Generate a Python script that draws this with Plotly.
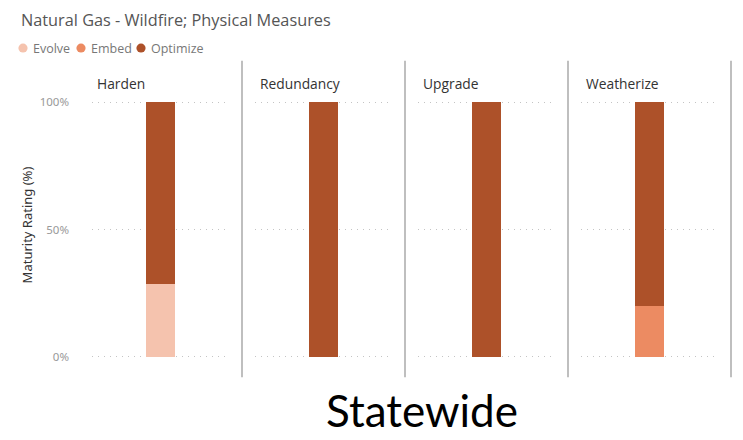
import plotly.graph_objects as go

categories = ["Harden", "Redundancy", "Upgrade", "Weatherize"]
series_names = ["Evolve", "Embed", "Optimize"]
evolve = [28.6, 0, 0, 0]
embed = [0, 0, 0, 20]
optimize = [71.4, 100, 100, 80]
colors = ["#F5C3AE", "#EC8B62", "#AD5129"]
y_ticks = [0, 50, 100]
y_tick_labels = ["0%", "50%", "100%"]

W, H = 743, 440
values = [evolve, embed, optimize]

fig = go.Figure()

panel_left0 = 79
panel_w = 163
inset = 13
y0_px, y100_px = 359.3, 99.5
pad = 1.0  # extend range slightly so edge gridlines render
px_per_unit = (y0_px - y100_px) / 100
dom_bottom = 1 - (y0_px + pad * px_per_unit) / H
dom_top = 1 - (y100_px - pad * px_per_unit) / H

layout = dict(
    width=W, height=H,
    margin=dict(l=0, r=0, t=0, b=0),
    paper_bgcolor="white", plot_bgcolor="white",
    barmode="stack", showlegend=False, hovermode=False,
    font=dict(family="Noto Sans", color="#666"),
)

shapes = []
annotations = []
for i, cat in enumerate(categories):
    ax = "" if i == 0 else str(i + 1)
    left = panel_left0 + panel_w * i + inset
    right = panel_left0 + panel_w * (i + 1) - inset
    for s, name in enumerate(series_names):
        fig.add_trace(go.Bar(
            x=[cat], y=[values[s][i]], name=name,
            marker=dict(color=colors[s], line=dict(width=0)),
            width=29 / (right - left),
            xaxis="x" + ax, yaxis="y" + ax,
        ))
    layout["xaxis" + ax] = dict(
        domain=[left / W, right / W], anchor="y" + ax,
        showticklabels=False, showgrid=False, zeroline=False,
        showline=False, ticks="", range=[-0.5, 0.5], fixedrange=True,
    )
    layout["yaxis" + ax] = dict(
        domain=[dom_bottom, dom_top], anchor="x" + ax,
        range=[-pad, 100 + pad], tickvals=y_ticks, ticktext=y_tick_labels,
        showticklabels=(i == 0), ticklabelstandoff=22,
        tickfont=dict(size=11.5, color="#999", family="Noto Sans"),
        showgrid=True, gridcolor="#c4c4c4", griddash="1px,5px", gridwidth=1,
        zeroline=False, showline=False, ticks="", fixedrange=True,
    )
    annotations.append(dict(
        text=cat, x=(left + 3) / W, y=1 - 80 / H, xref="paper", yref="paper",
        xanchor="left", yanchor="middle", showarrow=False,
        font=dict(size=13.8, color="#333", family="Open Sans"),
    ))
    xs = (panel_left0 + panel_w * (i + 1)) / W
    shapes.append(dict(type="line", xref="paper", yref="paper",
                       x0=xs, x1=xs, y0=1 - 380 / H, y1=1 - 57 / H,
                       line=dict(color="#aaaaaa", width=1.5)))

# legend: circle markers + labels
legend_circle_x = [23, 81, 141]
legend_y = 44
r = 4.6
for c, n, cx in zip(colors, series_names, legend_circle_x):
    shapes.append(dict(type="circle", xref="paper", yref="paper",
                       x0=(cx - r) / W, x1=(cx + r) / W,
                       y0=1 - (legend_y + r) / H, y1=1 - (legend_y - r) / H,
                       fillcolor=c, line=dict(width=0)))
    annotations.append(dict(
        text=n, x=(cx + r + 3.5) / W, y=1 - legend_y / H, xref="paper", yref="paper",
        xanchor="left", yanchor="middle", showarrow=False,
        font=dict(size=12.5, color="#777", family="Open Sans"),
    ))

annotations.append(dict(
    text="Natural Gas - Wildfire; Physical Measures", x=19 / W, y=1 - 15 / H,
    xref="paper", yref="paper", xanchor="left", yanchor="middle", showarrow=False,
    font=dict(size=16.3, color="#555", family="Open Sans"),
))
annotations.append(dict(
    text="Maturity Rating (%)", x=27 / W, y=1 - 225 / H, xref="paper", yref="paper",
    xanchor="center", yanchor="middle", showarrow=False, textangle=-90,
    font=dict(size=13, color="#333", family="Noto Sans"),
))
annotations.append(dict(
    text="Statewide", x=422 / W, y=1 - 413 / H, xref="paper", yref="paper",
    xanchor="center", yanchor="middle", showarrow=False,
    font=dict(size=44, color="#000", family="Lato"),
))

layout["shapes"] = shapes
layout["annotations"] = annotations
fig.update_layout(**layout)
fig.write_html("out.html", config={"displayModeBar": False},
               post_script="document.body.style.margin='0';")
